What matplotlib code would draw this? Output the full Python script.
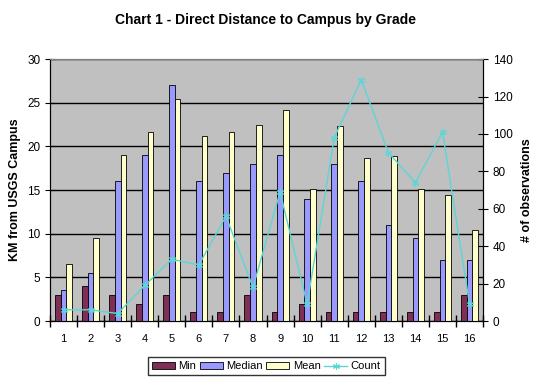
import numpy as np
import matplotlib
matplotlib.use("Agg")
import matplotlib.pyplot as plt

plt.rcParams['font.family'] = ['Liberation Sans', 'DejaVu Sans']

grades = list(range(1, 17))
km_min = [3, 4, 3, 2, 3, 1, 1, 3, 1, 2, 1, 1, 1, 1, 1, 3]
km_median = [3.5, 5.5, 16, 19, 27, 16, 17, 18, 19, 14, 18, 16, 11, 9.5, 7, 7]
km_mean = [6.5, 9.5, 19, 21.6, 25.4, 21.2, 21.7, 22.5, 24.2, 15.1, 22.3, 18.7, 18.9, 15.1, 14.4, 10.4]
count = [6, 6, 4, 19, 33, 30, 56, 18, 69, 9, 98, 129, 90, 74, 101, 9]

fig = plt.figure(figsize=(5.41, 3.84), dpi=100)
ax = fig.add_axes([0.0924, 0.164, 0.8006, 0.682])
ax.set_facecolor('#C0C0C0')

x = np.arange(len(grades))
w = 0.21
ax.bar(x - w, km_min, w, color='#7F2F56', edgecolor='black', linewidth=0.6, label='Min', zorder=3)
ax.bar(x, km_median, w, color='#9999FF', edgecolor='black', linewidth=0.6, label='Median', zorder=3)
ax.bar(x + w, km_mean, w, color='#FFFFCC', edgecolor='black', linewidth=0.6, label='Mean', zorder=3)

ax.set_xlim(-0.5, len(grades) - 0.5)
ax.set_ylim(0, 30)
ax.set_yticks(range(0, 31, 5))
ax.yaxis.grid(True, color='black', linewidth=1)
ax.set_axisbelow(True)
ax.set_xticks(x)
ax.set_xticklabels(grades)
ax.tick_params(axis='x', length=0, labelsize=8, pad=9)
ax.set_xticks(np.arange(-0.5, len(grades), 1), minor=True)
ax.tick_params(axis='x', which='minor', length=8, direction='inout', width=1)
ax.tick_params(axis='y', length=7, direction='inout', labelsize=8.5)
ax.set_ylabel('KM from USGS Campus', fontsize=9, fontweight='bold', labelpad=4)
ax.spines['top'].set_color('#808080')

ax2 = ax.twinx()
ax2.plot(x, count, color='#5CD6D6', linewidth=1, marker=(6, 2, 0), markersize=5,
         markeredgewidth=0.8, label='Count', zorder=5)
ax2.set_ylim(0, 140)
ax2.set_yticks(range(0, 141, 20))
ax2.tick_params(axis='y', length=7, direction='inout', labelsize=8.5)
ax2.set_ylabel('# of observations', fontsize=9, fontweight='bold', labelpad=6)
ax2.spines['top'].set_color('#808080')

fig.suptitle('Chart 1 - Direct Distance to Campus by Grade', fontsize=10, fontweight='bold',
             x=0.49, y=0.967)

h1, l1 = ax.get_legend_handles_labels()
h2, l2 = ax2.get_legend_handles_labels()
leg = fig.legend(h1 + h2, l1 + l2, loc='center', bbox_to_anchor=(0.492, 0.046), ncol=4,
                 fontsize=8, frameon=True, fancybox=False, edgecolor='black',
                 handlelength=2.1, handleheight=0.5, columnspacing=0.3, handletextpad=0.3,
                 borderpad=0.35)
leg.get_frame().set_linewidth(1)

fig.savefig('out.png', dpi=100)
